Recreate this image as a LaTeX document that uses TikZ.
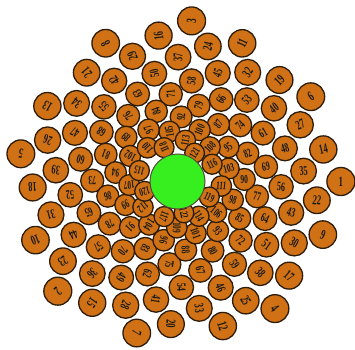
\documentclass[tikz,border=0pt]{standalone}
\usepackage{fontspec}
\setmainfont{Liberation Serif}
\begin{document}
\definecolor{disco}{RGB}{207,113,20}
\definecolor{discline}{RGB}{45,28,10}
\definecolor{core}{RGB}{55,238,30}
\tikzset{
  disc/.style={fill=disco,draw=discline,line width=1.3pt},
  num/.style={inner sep=0pt,font=\fontsize{10}{12}\selectfont\bfseries,text=black!90},
  corestyle/.style={circle,fill=core,draw=discline!80,line width=1pt,minimum size=55pt,inner sep=0pt}
}
\begin{tikzpicture}[x=1pt,y=1pt]
\useasboundingbox (-177.5,-167.5) rectangle (177.5,181.5);
\foreach \n in {1,...,122} {
  \pgfmathsetmacro\th{-10*mod((\n-1)*13.7508,36)}
  \pgfmathsetmacro\d{164.5-1.085*\n}
  \pgfmathsetmacro\s{8.8+0.032*\d}
  \pgfmathsetmacro\f{(5+0.65*\s)/10}
  \pgfmathsetmacro\fx{0.62*\f}
  \draw[disc] (\th:\d pt) circle[radius=\s pt];
  \node[num,rotate=\th,xscale=\fx,yscale=\f] (t\n) at (\th:\d pt) {\n};
}
\node[corestyle] (core) at (0,0) {};
\end{tikzpicture}
\end{document}
